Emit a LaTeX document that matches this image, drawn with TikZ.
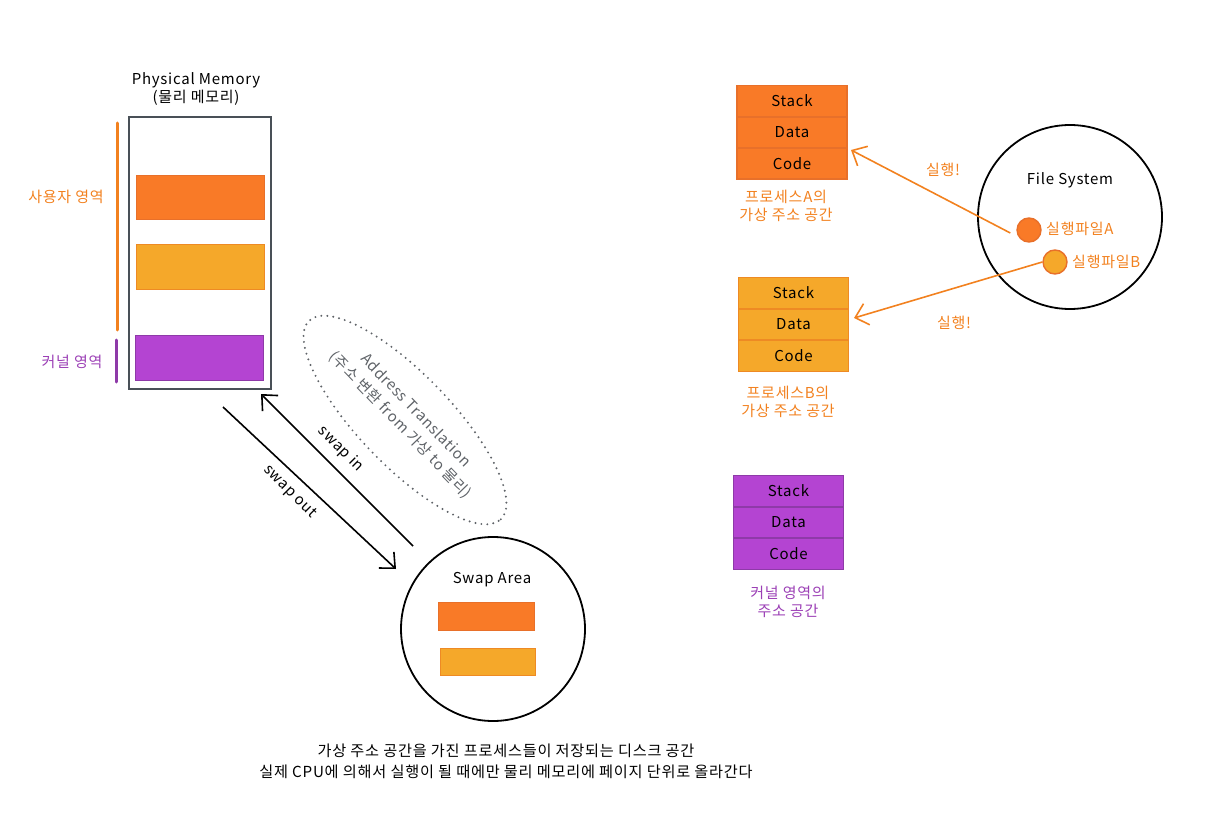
\documentclass[tikz,border=0pt]{standalone}
\usepackage{fontspec}
\setmainfont[LetterSpace=5]{Noto Sans CJK KR}
\usetikzlibrary{arrows.meta,shapes.geometric}
\definecolor{orF}{HTML}{F97A27}
\definecolor{orD}{HTML}{E8702A}
\definecolor{yeF}{HTML}{F5A82A}
\definecolor{yeD}{HTML}{EE8A24}
\definecolor{puF}{HTML}{B444D2}
\definecolor{puD}{HTML}{8E3AA8}
\definecolor{orT}{HTML}{F2811F}
\definecolor{puT}{HTML}{9B3FB5}
\definecolor{grB}{HTML}{495057}
\definecolor{grT}{HTML}{5F6368}
\tikzset{
  lbl/.style={font=\fontsize{15}{18}\selectfont, inner sep=0pt},
  small/.style={font=\fontsize{15.2}{21}\selectfont, inner sep=0pt},
  rowbox/.style={draw, line width=1.6pt, minimum width=110pt, minimum height=31pt, inner sep=0pt, font=\fontsize{15}{16}\selectfont},
  rowA/.style={rowbox, fill=orF, draw=orD},
  rowB/.style={rowbox, fill=yeF, draw=yeD},
  rowK/.style={rowbox, fill=puF, draw=puD},
  barO/.style={fill=orF, draw=orD, line width=0.8pt},
  barY/.style={fill=yeF, draw=yeD, line width=0.8pt},
  barP/.style={fill=puF, draw=puD, line width=0.8pt},
  swaparrow/.style={line width=1.6pt, -{Straight Barb[length=12pt,width=22pt,line width=1.6pt]}},
  runarrow/.style={orT, line width=1.6pt, -{Straight Barb[length=12pt,width=22pt,line width=1.6pt]}},
  bigcircle/.style={draw, circle, line width=1.8pt, inner sep=0pt},
  dot/.style={circle, line width=1.4pt, minimum size=24pt, inner sep=0pt}
}
\begin{document}
\begin{tikzpicture}[x=1pt,y=-1pt]
\useasboundingbox (0,0) rectangle (1231,818);

% Physical memory
\node[lbl, align=center] (pmtitle) at (196,89) {Physical Memory\\(물리 메모리)};
\node[draw=grB, line width=1.6pt, minimum width=142pt, minimum height=272pt, inner sep=0pt] (mem) at (200,253) {};
\node[barO, minimum width=128pt, minimum height=44pt, inner sep=0pt] (m1) at (200,197) {};
\node[barY, minimum width=128pt, minimum height=45pt, inner sep=0pt] (m2) at (200,266.5) {};
\node[barP, minimum width=128pt, minimum height=45pt, inner sep=0pt] (m3) at (199,357.5) {};
\coordinate (uTop) at (117,123);
\coordinate (uBot) at (117,330);
\draw[orT, line width=3pt, line cap=round] (uTop) -- (uBot);
\coordinate (kTop) at (116,340);
\coordinate (kBot) at (116,382);
\draw[puD, line width=3pt, line cap=round] (kTop) -- (kBot);
\node[lbl, text=orT] (ulabel) at (66,197) {사용자 영역};
\node[lbl, text=puT] (klabel) at (72,362) {커널 영역};

% swap arrows
\coordinate (sinA) at (413,546);
\coordinate (sinB) at (261,394);
\coordinate (soutA) at (223,407);
\coordinate (soutB) at (396,569);
\draw[swaparrow] (sinA) -- (sinB);
\draw[swaparrow] (soutA) -- (soutB);
\node[lbl, rotate=-45] (sinL) at (341,449) {swap in};
\node[lbl, rotate=-45] (soutL) at (290,492) {swap out};

% address translation ellipse
\node[ellipse, draw=grT, line width=2.2pt, dash pattern=on 0pt off 6pt, line cap=round,
      rotate=-46, minimum width=276pt, minimum height=92pt] (ell) at (405,420) {};
\node[lbl, text=grT, align=center, rotate=-46] (ellT) at (408,418) {Address Translation\\[3pt](주소 변환 from 가상 to 물리)};

% Swap area
\node[bigcircle, minimum size=184pt] (swap) at (493,629) {};
\node[lbl] (swapT) at (492,580) {Swap Area};
\node[barO, minimum width=96pt, minimum height=28pt, inner sep=0pt] (s1) at (486,616) {};
\node[barY, minimum width=95pt, minimum height=27pt, inner sep=0pt] (s2) at (487.5,661.5) {};

% bottom text
\node[small, align=center] (bottomT) at (506,761) {가상 주소 공간을 가진 프로세스들이 저장되는 디스크 공간\\실제 CPU에 의해서 실행이 될 때에만 물리 메모리에 페이지 단위로 올라간다};

% Process A
\node[rowA] (stackA) at (792,101) {Stack};
\node[rowA] (dataA) at (792,132.5) {Data};
\node[rowA] (codeA) at (792,163.5) {Code};
\node[lbl, text=orT, align=center] (labA) at (786,206) {프로세스A의\\가상 주소 공간};

% Process B
\node[rowB] (stackB) at (793.5,293) {Stack};
\node[rowB] (dataB) at (793.5,324.5) {Data};
\node[rowB] (codeB) at (793.5,356) {Code};
\node[lbl, text=orT, align=center] (labB) at (788,402) {프로세스B의\\가상 주소 공간};

% Kernel
\node[rowK] (stackK) at (788.5,491) {Stack};
\node[rowK] (dataK) at (788.5,522.5) {Data};
\node[rowK] (codeK) at (788.5,554) {Code};
\node[lbl, text=puT, align=center] (labK) at (788,602) {커널 영역의\\주소 공간};

% File system
\node[bigcircle, minimum size=184pt] (fs) at (1070,217) {};
\node[lbl] (fsT) at (1070,180) {File System};
\node[dot, fill=orF, draw=orD] (dotA) at (1029,230) {};
\node[lbl, text=orT, anchor=west] (exeA) at (1046,229) {실행파일A};
\node[dot, fill=yeF, draw=orD] (dotB) at (1055,262) {};
\node[lbl, text=orT, anchor=west] (exeB) at (1072,262) {실행파일B};
\coordinate (tipA) at (851,150);
\coordinate (tipB) at (854,318);
\draw[runarrow] ([xshift=-6pt,yshift=-3pt]dotA.west) -- (tipA);
\draw[runarrow] (dotB.west) -- (tipB);
\node[lbl, text=orT] (runA) at (943,170) {실행!};
\node[lbl, text=orT] (runB) at (954,323) {실행!};
\end{tikzpicture}
\end{document}
